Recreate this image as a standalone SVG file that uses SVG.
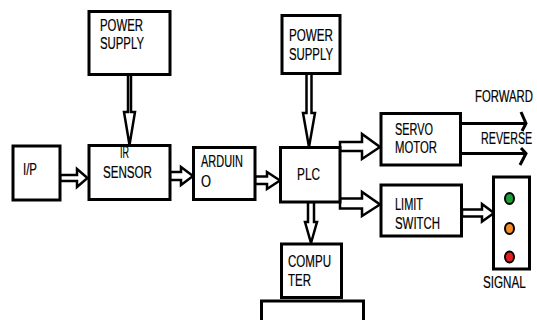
<svg xmlns="http://www.w3.org/2000/svg" width="537" height="320" viewBox="0 0 537 320">
<style>
.box{fill:#fff;stroke:#000;stroke-width:3}
.arr{fill:#fff;stroke:#000;stroke-width:2.5;stroke-linejoin:miter}
.ln{fill:none;stroke:#000;stroke-width:3}
.t{font-family:"Liberation Sans",Arial,sans-serif;font-size:16px;fill:#000;stroke:#000;stroke-width:0.2}
</style>
<rect width="537" height="320" fill="#fff"/>
<g id="connectors">
<polygon class="arr" points="128,74.5 131,74.5 131,112 135,112 129.5,145 124,112 128,112"/>
<polygon class="arr" points="306.5,73 311.5,73 311.5,113 315,113 309,147 303,113 306.5,113"/>
<polygon class="arr" points="60,175 77,175 77,169 87.5,178 77,187 77,181 60,181"/>
<polygon class="arr" points="170,172 181,172 181,167 193,176 181,185 181,180 170,180"/>
<polygon class="arr" points="255,176.5 267,176.5 267,172 280,180.5 267,189 267,184 255,184"/>
<polygon class="arr" points="340,142 362,142 362,134 380,147 362,159 362,151 340,151"/>
<polygon class="arr" points="340,198.5 362,198.5 362,192 380,204.5 362,216 362,208.5 340,208.5"/>
<polygon class="arr" points="308,202 314,202 314,222 317,222 311,243 305,222 308,222"/>
<polygon class="arr" points="462,209.5 482,209.5 482,204 494,213 482,221.5 482,216.5 462,216.5"/>
<path class="ln" d="M460,123.5 H525 M521,112 L526,123.5 L522,131"/>
<path class="ln" d="M460,153.5 H525 M521,148 L526,153.5 L520,165"/>
</g>
<g id="ps1"><rect class="box" x="89" y="11.5" width="81" height="63"/>
<text class="t" x="100" y="31" textLength="43" lengthAdjust="spacingAndGlyphs">POWER</text>
<text class="t" x="100" y="49" textLength="44" lengthAdjust="spacingAndGlyphs">SUPPLY</text></g>
<g id="ip"><rect class="box" x="13" y="146" width="47" height="54"/>
<text class="t" x="23" y="175" textLength="14" lengthAdjust="spacingAndGlyphs">I/P</text></g>
<g id="ir"><rect class="box" x="89" y="145.5" width="81" height="54"/>
<text class="t" x="120" y="158" textLength="9" lengthAdjust="spacingAndGlyphs">IR</text>
<text class="t" x="103" y="178" textLength="49" lengthAdjust="spacingAndGlyphs">SENSOR</text></g>
<g id="arduino"><rect class="box" x="193.5" y="147.5" width="61.5" height="52"/>
<text class="t" x="201" y="167" textLength="42" lengthAdjust="spacingAndGlyphs">ARDUIN</text>
<text class="t" x="201" y="187" textLength="10" lengthAdjust="spacingAndGlyphs">O</text></g>
<g id="plc"><rect class="box" x="280.5" y="147.5" width="59.5" height="54.5"/>
<text class="t" x="297" y="180" textLength="23" lengthAdjust="spacingAndGlyphs">PLC</text></g>
<g id="ps2"><rect class="box" x="282" y="15.5" width="58" height="58"/>
<text class="t" x="289" y="41" textLength="44" lengthAdjust="spacingAndGlyphs">POWER</text>
<text class="t" x="289" y="60" textLength="44" lengthAdjust="spacingAndGlyphs">SUPPLY</text></g>
<g id="servo"><rect class="box" x="381" y="113.5" width="79.5" height="51.5"/>
<text class="t" x="395" y="135" textLength="38" lengthAdjust="spacingAndGlyphs">SERVO</text>
<text class="t" x="395" y="153" textLength="42" lengthAdjust="spacingAndGlyphs">MOTOR</text></g>
<g id="forward"><text class="t" transform="translate(475,102) scale(0.71,1)">FORWARD</text></g>
<g id="reverse"><text class="t" transform="translate(481,144) scale(0.67,1)">REVERSE</text></g>
<g id="limit"><rect class="box" x="381" y="185" width="80.5" height="51"/>
<text class="t" x="395" y="210" textLength="28" lengthAdjust="spacingAndGlyphs">LIMIT</text>
<text class="t" x="395" y="229" textLength="45" lengthAdjust="spacingAndGlyphs">SWITCH</text></g>
<g id="computer"><rect class="box" x="281.5" y="244" width="60" height="53.5"/>
<text class="t" x="288" y="267" textLength="43" lengthAdjust="spacingAndGlyphs">COMPU</text>
<text class="t" x="288" y="286" textLength="23" lengthAdjust="spacingAndGlyphs">TER</text></g>
<g id="bottom-box"><rect class="box" x="261.5" y="301" width="102" height="30"/></g>
<g id="signal"><rect class="box" x="493.5" y="177" width="36" height="92"/>
<ellipse cx="509.5" cy="198.5" rx="4.5" ry="5.5" fill="#1e9e3a" stroke="#000" stroke-width="2"/>
<ellipse cx="509.5" cy="228.5" rx="4.5" ry="5.5" fill="#f28c28" stroke="#000" stroke-width="2"/>
<ellipse cx="509.5" cy="257" rx="4.5" ry="5.5" fill="#e0201e" stroke="#000" stroke-width="2"/>
<text class="t" transform="translate(483,288) scale(0.73,1)">SIGNAL</text></g>
</svg>
